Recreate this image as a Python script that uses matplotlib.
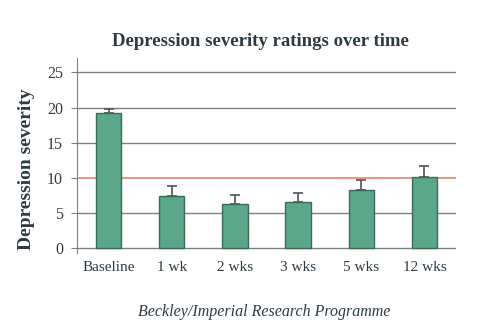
import matplotlib
matplotlib.use("Agg")
import matplotlib.pyplot as plt
import numpy as np

labels = ["Baseline", "1 wk", "2 wks", "3 wks", "5 wks", "12 wks"]
severity = [19.2, 7.45, 6.25, 6.5, 8.3, 10.1]
error_up = [0.6, 1.4, 1.35, 1.4, 1.45, 1.6]
threshold = 10

text_col = "#2d3b44"
grid_col = "#7a808a"

plt.rcParams["font.family"] = ["Liberation Serif", "DejaVu Serif"]

fig = plt.figure(figsize=(5, 3.3), dpi=100)
ax = fig.add_axes([0.154, 0.2333, 0.758, 0.59])

x = np.arange(len(labels))
ax.set_xlim(-0.5, len(labels) - 0.5)
ax.set_ylim(-0.7, 27)

for v in [5, 15, 20, 25]:
    ax.axhline(v, color=grid_col, lw=1.0, zorder=1)
ax.axhline(0, color=grid_col, lw=1.0, zorder=1)
ax.axhline(threshold, color="#e8806c", lw=1.2, zorder=1)

ax.bar(x, severity, width=0.4, color="#5aa78a", edgecolor="#3b6b5a",
       linewidth=1.0, zorder=3)
ax.errorbar(x, severity, yerr=[np.zeros(len(x)), error_up], fmt="none",
            ecolor="#4a5459", elinewidth=1.2, capsize=3.5, capthick=1.2,
            zorder=2)

for s in ["top", "right", "bottom"]:
    ax.spines[s].set_visible(False)
ax.spines["left"].set_color(grid_col)

ax.set_yticks([0, 5, 10, 15, 20, 25])
ax.tick_params(axis="y", colors=grid_col, length=4, labelsize=11.5,
               labelcolor=text_col, pad=6)
ax.set_xticks(x)
ax.set_xticklabels(labels)
ax.tick_params(axis="x", length=0, labelsize=11, labelcolor=text_col, pad=6)

ax.set_ylabel("Depression severity", fontsize=14, fontweight="bold",
              color=text_col)
ax.yaxis.set_label_coords(-0.11, 0.43)
fig.text(0.52, 0.873, "Depression severity ratings over time", ha="center",
         va="center", fontsize=13.5, fontweight="bold", color=text_col)
fig.text(0.528, 0.055, "Beckley/Imperial Research Programme", ha="center",
         va="center", fontsize=11.5, style="italic", color=text_col)

fig.savefig("out.png", dpi=100)
